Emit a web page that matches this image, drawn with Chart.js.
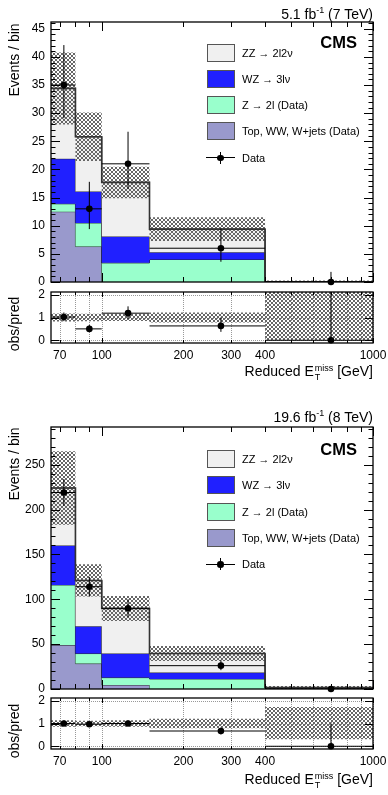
<!DOCTYPE html>
<html>
<head>
<meta charset="utf-8">
<script src="https://cdn.jsdelivr.net/npm/chart.js@4.4.1/dist/chart.umd.min.js"></script>
<style>
  body { margin: 0; width: 388px; height: 795px; position: relative; overflow: hidden; background: #fff;
         font-family: "Liberation Sans", Arial, Helvetica, sans-serif; color: #000; }
  canvas { position: absolute; left: 0; }
  .t { position: absolute; white-space: nowrap; line-height: 1; }
  .sup { font-size: 9px; vertical-align: 6px; }
  .ss { display: inline-flex; flex-direction: column; font-size: 9px; line-height: 9px; vertical-align: 5px; margin-left: 1px; }
  .box { position: absolute; width: 28px; height: 18px; border: 1px solid #555; box-sizing: border-box; }
</style>
</head>
<body>
<canvas id="main7" width="388" height="287" style="top:0px"></canvas>
<canvas id="ratio7" width="388" height="80" style="top:287px"></canvas>
<canvas id="main8" width="388" height="289" style="top:405px"></canvas>
<canvas id="ratio8" width="388" height="80" style="top:693px"></canvas>
<script>
// bin edges in reduced E_T^miss [GeV]
const edges = [65, 80, 100, 150, 400, 1000];
const xTickVals = [70, 80, 90, 100, 200, 300, 400, 500, 600, 700, 800, 900, 1000];
const xTickLabels = [70, 100, 200, 300, 400, 1000];

// 7 TeV (5.1 fb-1)
const top7   = [12.5, 6.3, 0, 0, 0];
const zjets7 = [1.4, 4.2, 3.4, 4.0, 0];
const wz7    = [8.0, 5.6, 4.7, 1.3, 0];
const zz7    = [12.5, 9.7, 9.6, 4.1, 0.05];
const unc7   = [6.4, 4.3, 2.8, 2.1, 0.2];
const data7  = [35, 13, 21, 6, 0];
const dataUp7 = [7.1, 4.8, 5.7, 3.5, 1.8];
const dataDn7 = [5.9, 3.6, 4.5, 2.4, 0];
const ratio7   = [1.02, 0.50, 1.19, 0.63, 0];
const ratioUp7 = [0.20, 0.17, 0.30, 0.37, 2.5];
const ratioDn7 = [0.18, 0.14, 0.25, 0.26, 0];
const bandLo7  = [0.82, 0.84, 0.85, 0.78, 0.0];
const bandHi7  = [1.18, 1.16, 1.15, 1.22, 2.2];
const yTicks7  = [0, 5, 10, 15, 20, 25, 30, 35, 40, 45];

// 8 TeV (19.6 fb-1)
const top8   = [49, 28.3, 4.5, 0, 0];
const zjets8 = [67, 11.2, 8.2, 11.2, 0.8];
const wz8    = [44, 30.5, 26.8, 7.1, 0.2];
const zz8    = [64, 51, 50.2, 21.2, 0.7];
const unc8   = [41, 18, 14, 8.4, 1.6];
const data8  = [219, 114, 90, 26, 0];
const dataUp8 = [15, 11, 10, 6, 1.8];
const dataDn8 = [15, 11, 10, 5, 0];
const ratio8   = [1.0, 0.97, 1.0, 0.67, 0];
const ratioUp8 = [0.07, 0.09, 0.11, 0.15, 1.0];
const ratioDn8 = [0.07, 0.09, 0.11, 0.15, 0];
const bandLo8  = [0.86, 0.88, 0.86, 0.79, 0.31];
const bandHi8  = [1.14, 1.12, 1.14, 1.21, 1.72];
const yTicks8  = [0, 50, 100, 150, 200, 250];

const ratioTicks = [0, 1, 2];
const legendLabels = ['ZZ \u2192 2l2\u03bd', 'WZ \u2192 3l\u03bd', 'Z \u2192 2l (Data)', 'Top, WW, W+jets (Data)', 'Data'];
const colors = ['#f0f0f0', '#2020ff', '#99ffcc', '#9999cc'];
const FONT = '"Liberation Sans", Arial, Helvetica, sans-serif';

// hatch pattern for the uncertainty band
const hatch = (() => {
  const c = document.createElement('canvas');
  c.width = 4; c.height = 4;
  const g = c.getContext('2d');
  g.fillStyle = '#666';
  for (let i = 0; i < 4; i++) { g.fillRect(i, i, 1, 1); g.fillRect(3 - i, i, 1, 1); }
  return g.createPattern(c, 'repeat');
})();

const steps = vals => edges.map((e, i) => ({ x: e, y: vals[Math.min(i, vals.length - 1)] }));
const cumsum = (...arrs) => arrs[0].map((_, i) => arrs.reduce((s, a) => s + a[i], 0));
const centers = edges.slice(0, -1).map((e, i) => (e + edges[i + 1]) / 2);

const stepLine = (vals, bg, fill, order, extra) => Object.assign({
  data: steps(vals), stepped: 'before', backgroundColor: bg, fill,
  borderColor: '#222', borderWidth: 1, pointRadius: 0, order
}, extra);

const pointSet = (vals, up, dn) => ({
  data: centers.map((x, i) => ({ x, y: vals[i] })), showLine: false,
  pointRadius: 3.3, pointBackgroundColor: '#000', pointBorderWidth: 0, clip: false, order: 0,
  errUp: up, errDn: dn, xLo: edges.slice(0, -1), xHi: edges.slice(1)
});

// ROOT-like frame, inward ticks, dotted grid and error bars
function rootFrame(o) {
  return {
    id: 'rootFrame',
    beforeDatasetsDraw(chart) {
      if (!o.grid) return;
      const { ctx, chartArea: a, scales: { x, y } } = chart;
      ctx.save();
      ctx.strokeStyle = '#999'; ctx.lineWidth = 1; ctx.setLineDash([1, 1]);
      ctx.beginPath();
      xTickVals.forEach(v => {
        const px = Math.round(x.getPixelForValue(v)) + 0.5;
        ctx.moveTo(px, a.top); ctx.lineTo(px, a.bottom);
      });
      o.yTicks.forEach(v => {
        const py = Math.round(y.getPixelForValue(v)) + 0.5;
        ctx.moveTo(a.left, py); ctx.lineTo(a.right, py);
      });
      ctx.stroke();
      ctx.restore();
    },
    afterDatasetsDraw(chart) {
      const { ctx, chartArea: a, scales: { x, y } } = chart;
      ctx.save();
      ctx.beginPath(); ctx.rect(a.left, a.top, a.right - a.left, a.bottom - a.top); ctx.clip();
      ctx.strokeStyle = '#000'; ctx.lineWidth = 1;
      chart.data.datasets.forEach(ds => {
        if (!ds.errUp) return;
        ds.data.forEach((p, i) => {
          const px = x.getPixelForValue(p.x), py = y.getPixelForValue(p.y);
          ctx.beginPath();
          ctx.moveTo(px, y.getPixelForValue(p.y + ds.errUp[i]));
          ctx.lineTo(px, y.getPixelForValue(p.y - ds.errDn[i]));
          ctx.moveTo(x.getPixelForValue(ds.xLo[i]), py);
          ctx.lineTo(x.getPixelForValue(ds.xHi[i]), py);
          ctx.stroke();
        });
      });
      ctx.restore();
    },
    afterDraw(chart) {
      const { ctx, chartArea: a, scales: { x, y } } = chart;
      ctx.save();
      ctx.strokeStyle = '#000'; ctx.lineWidth = 1;
      ctx.beginPath();
      xTickVals.forEach(v => {
        const px = Math.round(x.getPixelForValue(v)) + 0.5;
        const len = (v === 100 || v === 1000) ? o.xMajor : o.xMinor;
        ctx.moveTo(px, a.bottom); ctx.lineTo(px, a.bottom - len);
        ctx.moveTo(px, a.top); ctx.lineTo(px, a.top + len);
      });
      const yt = (v, len) => {
        const py = Math.round(y.getPixelForValue(v)) + 0.5;
        ctx.moveTo(a.left, py); ctx.lineTo(a.left + len, py);
        ctx.moveTo(a.right, py); ctx.lineTo(a.right - len, py);
      };
      o.yTicks.forEach(v => yt(v, o.yMajor));
      o.yMinor.forEach(v => yt(v, o.yMinorLen));
      ctx.stroke();
      ctx.lineWidth = 1.3;
      ctx.strokeRect(a.left, a.top, a.right - a.left, a.bottom - a.top);
      ctx.restore();
    }
  };
}

const xScale = (showLabels, height) => ({
  type: 'logarithmic', min: 65, max: 1000,
  grid: { display: false, drawTicks: false }, border: { display: false },
  afterBuildTicks: s => { s.ticks = xTickVals.map(v => ({ value: v })); },
  afterFit: s => { s.height = height; s.paddingLeft = 0; s.paddingRight = 0; },
  ticks: {
    display: showLabels, autoSkip: false, maxRotation: 0, minRotation: 0, padding: 5,
    color: '#000', font: { family: FONT, size: 12 },
    callback: v => xTickLabels.includes(v) ? String(v) : ''
  }
});

const yScale = (min, max, ticks) => ({
  min, max,
  grid: { display: false, drawTicks: false }, border: { display: false },
  afterBuildTicks: s => { s.ticks = ticks.map(v => ({ value: v })); },
  afterFit: s => { s.width = 51; s.paddingTop = 0; s.paddingBottom = 0; },
  ticks: { padding: 6, color: '#000', font: { family: FONT, size: 12 } }
});

const baseOpts = (pad, scales) => ({
  responsive: false, animation: false, events: [],
  layout: { padding: pad },
  plugins: { legend: { display: false }, tooltip: { enabled: false } },
  scales
});

function mainChart(id, p) {
  const c1 = p.top;
  const c2 = cumsum(p.top, p.zjets);
  const c3 = cumsum(p.top, p.zjets, p.wz);
  const c4 = cumsum(p.top, p.zjets, p.wz, p.zz);
  const lo = c4.map((v, i) => Math.max(v - p.unc[i], 0));
  const hi = c4.map((v, i) => v + p.unc[i]);
  const minor = [];
  for (let v = 0; v <= p.yMax; v += p.minorStep) minor.push(v);
  new Chart(document.getElementById(id), {
    type: 'line',
    data: {
      datasets: [
        stepLine(c1, colors[3], 'origin', 10),
        stepLine(c2, colors[2], '-1', 9),
        stepLine(c3, colors[1], '-1', 8),
        stepLine(c4, colors[0], '-1', 7),
        stepLine(lo, 'transparent', false, 6, { borderColor: 'transparent' }),
        stepLine(hi, hatch, '-1', 5, { borderColor: 'transparent' }),
        stepLine(c4, 'transparent', false, 4, { borderColor: '#333', borderWidth: 1.6 }),
        pointSet(p.data, p.up, p.dn)
      ]
    },
    options: baseOpts({ top: 22, right: 15, bottom: 5, left: 0 },
      { x: xScale(false, 0), y: yScale(0, p.yMax, p.yTicks) }),
    plugins: [rootFrame({ grid: false, yTicks: p.yTicks, yMinor: minor, yMajor: 9, yMinorLen: 4.5, xMajor: 9, xMinor: 5 })]
  });
}

function ratioChart(id, p) {
  new Chart(document.getElementById(id), {
    type: 'line',
    data: {
      datasets: [
        stepLine(p.lo, 'transparent', false, 6, { borderColor: 'transparent' }),
        stepLine(p.hi, hatch, '-1', 5, { borderColor: 'transparent' }),
        pointSet(p.ratio, p.up, p.dn)
      ]
    },
    options: baseOpts({ top: 5, right: 15, bottom: 0, left: 0 },
      { x: xScale(true, 24), y: yScale(-0.12, 2.12, ratioTicks) }),
    plugins: [rootFrame({ grid: true, yTicks: ratioTicks, yMinor: [], yMajor: 8, yMinorLen: 0, xMajor: 5, xMinor: 3 })]
  });
}

mainChart('main7', { top: top7, zjets: zjets7, wz: wz7, zz: zz7, unc: unc7, data: data7, up: dataUp7, dn: dataDn7,
  yMax: 46.2, yTicks: yTicks7, minorStep: 1 });
ratioChart('ratio7', { lo: bandLo7, hi: bandHi7, ratio: ratio7, up: ratioUp7, dn: ratioDn7 });
mainChart('main8', { top: top8, zjets: zjets8, wz: wz8, zz: zz8, unc: unc8, data: data8, up: dataUp8, dn: dataDn8,
  yMax: 292, yTicks: yTicks8, minorStep: 10 });
ratioChart('ratio8', { lo: bandLo8, hi: bandHi8, ratio: ratio8, up: ratioUp8, dn: ratioDn8 });

// text: titles, legend, labels
function addText(html, css) {
  const d = document.createElement('div');
  d.className = 't';
  d.innerHTML = html;
  Object.assign(d.style, css);
  document.body.appendChild(d);
  return d;
}

function panelTexts(lumi, energy, lumiY, cmsY, legY, evY, obsY, xTitleY) {
  addText(lumi + ' fb<span class="sup">-1</span> (' + energy + ' TeV)',
    { right: '15px', top: lumiY + 'px', transform: 'translateY(-50%)', fontSize: '14px' });
  addText('CMS', { right: '31px', top: cmsY + 'px', transform: 'translateY(-50%)', fontSize: '16.5px', fontWeight: 'bold' });
  addText('Events / bin', { left: '14px', top: evY + 'px', transform: 'translate(-50%,-50%) rotate(-90deg)', fontSize: '14px' });
  addText('obs/pred', { left: '14px', top: obsY + 'px', transform: 'translate(-50%,-50%) rotate(-90deg)', fontSize: '14px' });
  addText('Reduced E<span class="ss"><span>miss</span><span>T</span></span> [GeV]',
    { right: '15px', top: xTitleY + 'px', transform: 'translateY(-50%)', fontSize: '14px' });
  legendLabels.forEach((lab, i) => {
    const cy = legY + i * 26.3;
    if (i < 4) {
      const b = document.createElement('div');
      b.className = 'box';
      Object.assign(b.style, { left: '207px', top: (cy - 9) + 'px', background: colors[i] });
      document.body.appendChild(b);
    } else {
      addText('', { left: '206px', top: (cy - 0.5) + 'px', width: '29px', height: '1px', background: '#000' });
      addText('', { left: '220px', top: (cy - 6) + 'px', width: '1px', height: '12px', background: '#000' });
      addText('', { left: '217.3px', top: (cy - 3.2) + 'px', width: '6.5px', height: '6.5px', borderRadius: '50%', background: '#000' });
    }
    addText(lab, { left: '242px', top: cy + 'px', transform: 'translateY(-50%)', fontSize: '11px' });
  });
}

panelTexts('5.1', '7', 12.5, 42, 52.5, 60, 324, 373);
panelTexts('19.6', '8', 416, 449, 459, 464, 731, 781);
</script>
</body>
</html>
